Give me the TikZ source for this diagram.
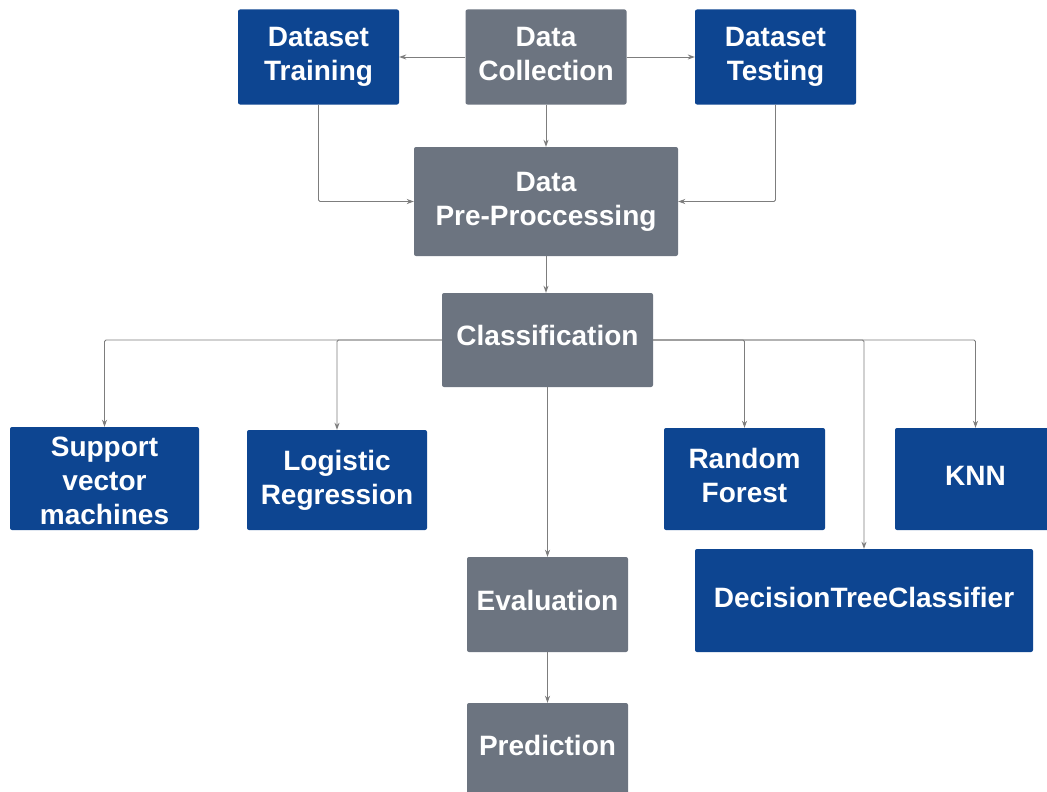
\documentclass[tikz,border=0pt]{standalone}
\usepackage{fontspec}
\setmainfont{Liberation Sans}
\usetikzlibrary{arrows.meta,calc}

\definecolor{boxblue}{RGB}{13,69,145}
\definecolor{boxgrey}{RGB}{108,116,128}
\definecolor{wire}{RGB}{125,125,125}

\tikzset{
  box/.style={rounded corners=2pt, minimum width=161, minimum height=95, inner sep=0pt},
  bluebox/.style={box, fill=boxblue},
  greybox/.style={box, fill=boxgrey},
  txt/.style={text=white, font=\bfseries\fontsize{28}{34}\selectfont, align=center, inner sep=0pt},
  link/.style={draw=wire, line width=0.9pt, rounded corners=1.5pt,
    -{Stealth[length=7pt,width=5pt]}},
}

\begin{document}
\begin{tikzpicture}[x=1pt,y=-1pt]
  \useasboundingbox (0,0) rectangle (1047,792);
  \clip (0,0) rectangle (1047,792);
  \fill[white] (0,0) rectangle (1047,792);

  % boxes
  \node[bluebox] (train) at (318.5,57) {};
  \node[greybox] (collect) at (546,57) {};
  \node[bluebox] (test) at (775.5,57) {};
  \node[greybox, minimum width=264, minimum height=109] (pre) at (546,201.5) {};
  \node[greybox, minimum width=211, minimum height=94] (cls) at (547.5,340) {};
  \node[bluebox, minimum width=189, minimum height=103] (svm) at (104.5,478.5) {};
  \node[bluebox, minimum width=180, minimum height=100] (lr) at (337,480) {};
  \node[bluebox, minimum height=102] (rf) at (744.5,479) {};
  \node[bluebox, minimum height=102] (knn) at (975.5,479) {};
  \node[bluebox, minimum width=338, minimum height=103] (dtc) at (864,600.5) {};
  \node[greybox] (eval) at (547.5,604.5) {};
  \node[greybox] (pred) at (547.5,750.5) {};

  % labels
  \node[txt] at (318.5,57) {Dataset\\Training};
  \node[txt] at (546,54) {Data\\Collection};
  \node[txt] at (775.5,57) {Dataset\\Testing};
  \node[txt] at (546,202) {Data\\Pre-Proccessing};
  \node[txt] at (547.5,335) {Classification};
  \node[txt] at (104.5,481) {Support\\vector\\machines};
  \node[txt] at (337,480) {Logistic\\Regression};
  \node[txt] at (744.5,475) {Random\\Forest};
  \node[txt] at (975.5,476) {KNN};
  \node[txt] at (864,597) {DecisionTreeClassifier};
  \node[txt] at (547.5,600) {Evaluation};
  \node[txt] at (547.5,745) {Prediction};

  % connectors
  \draw[link] (collect.west) -- (train.east);
  \draw[link] (collect.east) -- (test.west);
  \draw[link] (collect.south) -- (pre.north);
  \draw[link] (train.south) |- (pre.west);
  \draw[link] (test.south) |- (pre.east);
  \draw[link] (pre.south) -- (pre.south |- cls.north);
  \draw[link] (cls.west) -| (svm.north);
  \draw[link] (cls.west) -| (lr.north);
  \draw[link] (cls.east) -| (rf.north);
  \draw[link] (cls.east) -| (dtc.north);
  \draw[link] (cls.east) -| (knn.north);
  \draw[link] (cls.south) -- (eval.north);
  \draw[link] (eval.south) -- (pred.north);
\end{tikzpicture}
\end{document}
